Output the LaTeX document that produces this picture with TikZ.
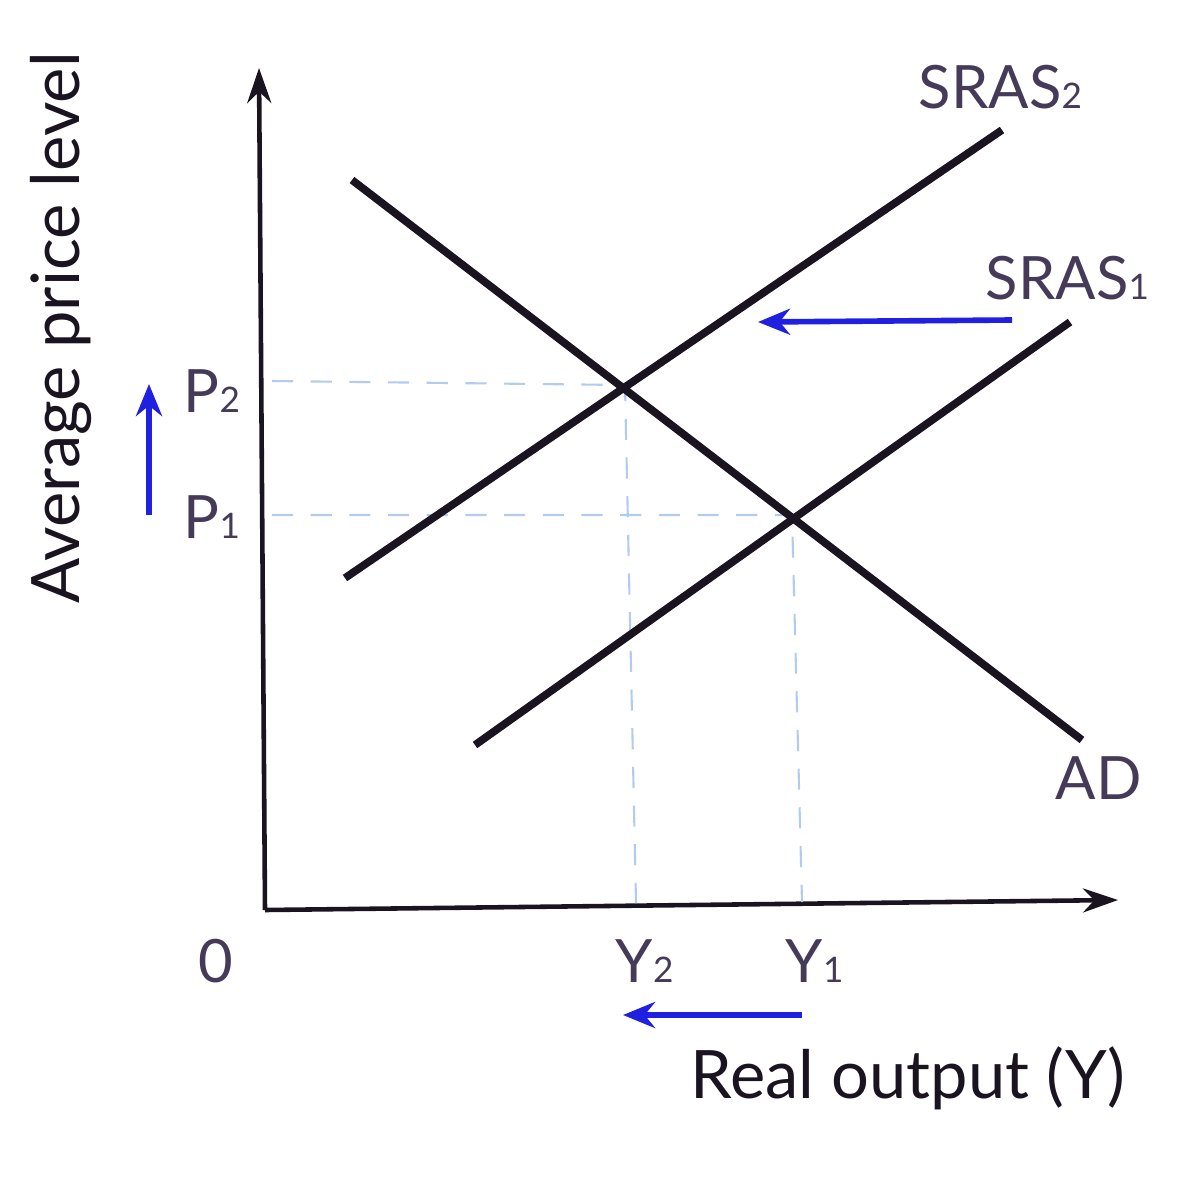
\documentclass[tikz,border=0pt]{standalone}
\usepackage{fontspec}
\setmainfont{Lato}
\usetikzlibrary{arrows.meta,positioning}
\definecolor{ink}{HTML}{1A1420}
\definecolor{lbl}{HTML}{453A58}
\definecolor{shift}{HTML}{2020E0}
\definecolor{guide}{HTML}{B3CBF0}
\tikzset{
  axis/.style={line width=1.3pt,draw=ink,-{Stealth[length=3.5mm,width=2.4mm]}},
  curve/.style={line width=2.2pt,draw=ink},
  guideline/.style={draw=guide,line width=0.6pt,dash pattern=on 6pt off 5pt},
  shiftar/.style={line width=1.6pt,draw=shift,-{Stealth[length=3.2mm,width=2.6mm]}},
  txt/.style={font=\fontsize{17}{20}\selectfont,text=lbl,inner sep=0pt},
  title/.style={font=\fontsize{19}{22}\selectfont,text=ink,inner sep=0pt},
}
\newcommand{\sub}[1]{{\fontsize{10}{12}\selectfont #1}}

\begin{document}
\begin{tikzpicture}[x=0.01cm,y=-0.01cm]
  \useasboundingbox (0,0) rectangle (1200,1200);
  % axes
  \coordinate (o) at (265,910);
  \coordinate (ytop) at (259,68);
  \coordinate (xend) at (1118,900);
  \draw[axis] (o)--(ytop);
  \draw[axis] (o)--(xend);
  % curves
  \coordinate (ad1) at (352,180);  \coordinate (ad2) at (1082,740);
  \coordinate (sa1) at (345,578);  \coordinate (sa2) at (1002,130);
  \coordinate (sb1) at (475,745);  \coordinate (sb2) at (1070,322);
  \coordinate (e2) at (625,385);   \coordinate (e1) at (792,515);
  \coordinate (p2) at (272,381);   \coordinate (p1) at (272,515);
  \coordinate (y2) at (636,903);   \coordinate (y1) at (802,902);
  \draw[guideline] (p2)--(e2)--(y2);
  \draw[guideline] (p1)--(e1)--(y1);
  \draw[curve] (ad1)--(ad2);
  \draw[curve] (sa1)--(sa2);
  \draw[curve] (sb1)--(sb2);
  % labels
  \node[txt,anchor=base west] (lsa) at (918,108) {SRAS\sub{2}};
  \node[txt,anchor=base west] (lsb) at (985,299) {SRAS\sub{1}};
  \node[txt,anchor=base west] (lad) at (1055,799) {AD};
  \node[txt,anchor=base west] (lp2) at (183,412) {P\sub{2}};
  \node[txt,anchor=base west] (lp1) at (183,538) {P\sub{1}};
  \node[txt,anchor=base west] (lo) at (198,982) {0};
  \node[txt,anchor=base west] (ly2) at (615,982) {Y\sub{2}};
  \node[txt,anchor=base west] (ly1) at (785,982) {Y\sub{1}};
  \node[title,anchor=base west] (xlab) at (690,1098) {Real output (Y)};
  \node[title,anchor=base,rotate=90] (ylab) at (80,328) {Average price level};
  % shifts
  \coordinate (hs1) at (1012,320); \coordinate (hs2) at (758,322);
  \coordinate (vs1) at (149,515);  \coordinate (vs2) at (149,384);
  \coordinate (bs1) at (802,1015); \coordinate (bs2) at (623,1015);
  \draw[shiftar] (hs1)--(hs2);
  \draw[shiftar] (vs1)--(vs2);
  \draw[shiftar] (bs1)--(bs2);
\end{tikzpicture}
\end{document}
